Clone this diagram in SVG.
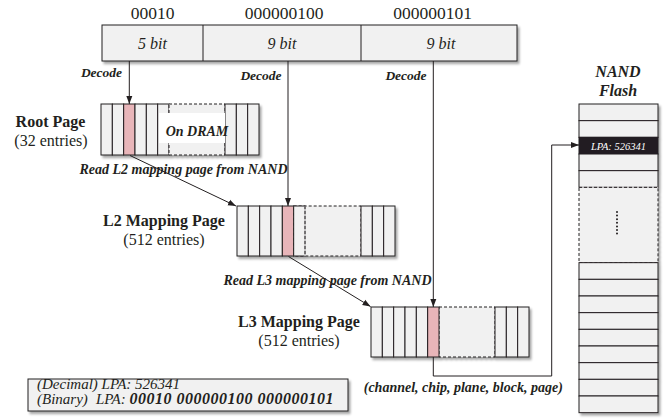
<svg xmlns="http://www.w3.org/2000/svg" width="670" height="419" viewBox="0 0 670 419">
<defs>
<filter id="sh" x="-10%" y="-10%" width="130%" height="140%">
<feDropShadow dx="2" dy="2.5" stdDeviation="1.2" flood-color="#000" flood-opacity="0.35"/>
</filter>
<marker id="ah" markerUnits="userSpaceOnUse" markerWidth="9" markerHeight="7" refX="8" refY="3.5" orient="auto">
<path d="M0,0.5 L8,3.5 L0,6.5 z" fill="#231f20"/>
</marker>
</defs>
<style>
text{font-family:"Liberation Serif","Times New Roman",serif;fill:#231f20}
.c{fill:#f1f1f1;stroke:#231f20;stroke-width:1}
.r{fill:#e8b5b9;stroke:#231f20;stroke-width:1}
.d{fill:#f1f1f1;stroke:#231f20;stroke-width:1;stroke-dasharray:3 2}
.bi{font-weight:bold;font-style:italic}
.b{font-weight:bold}
.i{font-style:italic}
.ln{fill:none;stroke:#231f20;stroke-width:1}
</style>

<g id="lpa-bits">
<g filter="url(#sh)">
<rect class="c" x="102" y="25" width="415" height="36"/>
</g>
<line class="ln" x1="203" y1="25" x2="203" y2="61"/>
<line class="ln" x1="361" y1="25" x2="361" y2="61"/>
<text x="152.5" y="18.5" font-size="17.5" text-anchor="middle">00010</text>
<text x="284" y="18.5" font-size="17.5" text-anchor="middle">000000100</text>
<text x="432.5" y="18.5" font-size="17.5" text-anchor="middle">000000101</text>
<text class="i" x="152.5" y="49" font-size="16" text-anchor="middle">5 bit</text>
<text class="i" x="282" y="49" font-size="16" text-anchor="middle">9 bit</text>
<text class="i" x="441" y="49" font-size="16" text-anchor="middle">9 bit</text>
</g>

<g id="decode-labels">
<text class="bi" x="101.5" y="77" font-size="13.5" text-anchor="middle">Decode</text>
<text class="bi" x="261" y="79.5" font-size="13.5" text-anchor="middle">Decode</text>
<text class="bi" x="406" y="79.5" font-size="13.5" text-anchor="middle">Decode</text>
</g>

<g id="root-page">
<g filter="url(#sh)">
<rect class="c" x="101" y="104" width="11.33" height="51"/>
<rect class="c" x="112.33" y="104" width="11.33" height="51"/>
<rect class="r" x="123.67" y="104" width="11.33" height="51"/>
<rect class="c" x="135" y="104" width="11.33" height="51"/>
<rect class="c" x="146.33" y="104" width="11.33" height="51"/>
<rect class="c" x="157.67" y="104" width="11.33" height="51"/>
<rect class="d" x="169" y="104" width="56" height="51"/>
<rect class="c" x="225" y="104" width="11.33" height="51"/>
<rect class="c" x="236.33" y="104" width="11.33" height="51"/>
<rect class="c" x="247.67" y="104" width="11.33" height="51"/>
</g>
<rect x="159" y="113" width="66" height="30" fill="#ffffff"/>
<text class="bi" x="197" y="136" font-size="14" text-anchor="middle">On DRAM</text>
<text class="b" x="50.5" y="126.5" font-size="16" text-anchor="middle">Root Page</text>
<text x="51" y="145.5" font-size="16" text-anchor="middle">(32 entries)</text>
</g>

<g id="l2-page">
<g filter="url(#sh)">
<rect class="c" x="237" y="206" width="11.33" height="50"/>
<rect class="c" x="248.33" y="206" width="11.33" height="50"/>
<rect class="c" x="259.67" y="206" width="11.33" height="50"/>
<rect class="c" x="271" y="206" width="11.33" height="50"/>
<rect class="r" x="282.33" y="206" width="11.33" height="50"/>
<rect class="d" x="293.67" y="206" width="67.33" height="50"/>
<rect class="c" x="293.67" y="206" width="11.33" height="50"/>
<rect class="c" x="361" y="206" width="11.33" height="50"/>
<rect class="c" x="372.33" y="206" width="11.33" height="50"/>
<rect class="c" x="383.67" y="206" width="11.33" height="50"/>
</g>
<line x1="305" y1="206" x2="305" y2="256" stroke="#f1f1f1" stroke-width="1.2"/>
<line x1="305" y1="206" x2="305" y2="256" stroke="#231f20" stroke-width="1" stroke-dasharray="3 2"/>
<text class="b" x="164" y="226" font-size="16" text-anchor="middle">L2 Mapping Page</text>
<text x="164" y="244.5" font-size="16" text-anchor="middle">(512 entries)</text>
</g>

<g id="l3-page">
<g filter="url(#sh)">
<rect class="c" x="371" y="307" width="11.33" height="50"/>
<rect class="c" x="382.33" y="307" width="11.33" height="50"/>
<rect class="c" x="393.67" y="307" width="11.33" height="50"/>
<rect class="c" x="405" y="307" width="11.33" height="50"/>
<rect class="c" x="416.33" y="307" width="11.33" height="50"/>
<rect class="d" x="439" y="307" width="56" height="50"/>
<rect class="r" x="427.67" y="307" width="11.33" height="50"/>
<rect class="c" x="495" y="307" width="11.33" height="50"/>
<rect class="c" x="506.33" y="307" width="11.33" height="50"/>
<rect class="c" x="517.67" y="307" width="11.33" height="50"/>
</g>
<text class="b" x="299" y="327" font-size="16" text-anchor="middle">L3 Mapping Page</text>
<text x="299" y="345.5" font-size="16" text-anchor="middle">(512 entries)</text>
</g>

<g id="nand-flash">
<g filter="url(#sh)">
<rect class="c" x="579" y="104" width="79" height="16.67"/>
<rect class="c" x="579" y="120.67" width="79" height="16.67"/>
<rect x="579" y="137.33" width="79" height="16.67" fill="#231f20" stroke="#231f20"/>
<rect class="c" x="579" y="154" width="79" height="16.67"/>
<rect class="c" x="579" y="170.67" width="79" height="16.67"/>
<rect class="d" x="579" y="187.33" width="79" height="75.33"/>
<rect class="c" x="579" y="262.67" width="79" height="16.67"/>
<rect class="c" x="579" y="279.33" width="79" height="16.67"/>
<rect class="c" x="579" y="296" width="79" height="16.67"/>
<rect class="c" x="579" y="312.67" width="79" height="16.67"/>
<rect class="c" x="579" y="329.33" width="79" height="16.67"/>
<rect class="c" x="579" y="346" width="79" height="16.67"/>
<rect class="c" x="579" y="362.67" width="79" height="16.67"/>
<rect class="c" x="579" y="379.33" width="79" height="16.67"/>
<rect class="c" x="579" y="396" width="79" height="16.67"/>
</g>
<text class="i" x="618.5" y="149.5" font-size="10.5" text-anchor="middle" style="fill:#ffffff">LPA: 526341</text>
<line x1="617" y1="212" x2="617" y2="234" stroke="#231f20" stroke-width="2" stroke-linecap="round" stroke-dasharray="0 3.6"/>
<text class="bi" x="618" y="77" font-size="16" text-anchor="middle">NAND</text>
<text class="bi" x="618" y="96" font-size="16" text-anchor="middle">Flash</text>
</g>

<g id="lpa-box">
<g filter="url(#sh)">
<rect x="28" y="379" width="320" height="32" fill="#f1f1f1" stroke="#231f20" stroke-width="1"/>
</g>
<text class="i" x="37" y="388.5" font-size="15">(Decimal) LPA: 526341</text>
<text class="i" x="37" y="403.5" font-size="15">(Binary)<tspan x="96">LPA: </tspan><tspan class="bi" font-size="16" letter-spacing="0.5">00010 000000100 000000101</tspan></text>
</g>

<g id="connectors">
<line class="ln" x1="129.3" y1="61" x2="129.3" y2="104" marker-end="url(#ah)"/>
<line class="ln" x1="288" y1="61" x2="288" y2="206" marker-end="url(#ah)"/>
<line class="ln" x1="433.3" y1="61" x2="433.3" y2="307" marker-end="url(#ah)"/>
<line class="ln" x1="130" y1="155.5" x2="236" y2="206" marker-end="url(#ah)"/>
<line class="ln" x1="288.5" y1="256.5" x2="370.5" y2="306.5" marker-end="url(#ah)"/>
<polyline class="ln" points="433.3,357 433.3,376 551.7,376 551.7,145 579,145" marker-end="url(#ah)"/>
</g>

<g id="edge-labels">
<text class="bi" x="183.5" y="174" font-size="14" text-anchor="middle">Read L2 mapping page from NAND</text>
<text class="bi" x="327.5" y="284.5" font-size="14" text-anchor="middle">Read L3 mapping page from NAND</text>
<text class="bi" x="463.3" y="392" font-size="14" text-anchor="middle">(channel, chip, plane, block, page)</text>
</g>
</svg>
